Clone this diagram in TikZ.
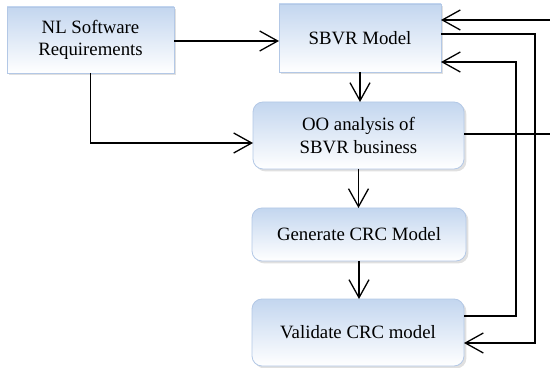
\documentclass[tikz,border=0pt]{standalone}
\usepackage{fontspec}
\setmainfont{Liberation Serif}
\usepackage{tikz}
\usetikzlibrary{arrows.meta, calc, shadows}

\definecolor{boxtop}{HTML}{C3D6EF}
\definecolor{boxline}{HTML}{B3C8E6}

\begin{document}
\begin{tikzpicture}[x=0.5pt, y=-0.5pt, font=\fontsize{9.4}{11.2}\selectfont]
    % Define styles
    \tikzstyle{box} = [rectangle, draw=boxline, line width=0.4pt, top color=boxtop, bottom color=white, text centered, align=center, inner sep=0pt, outer sep=0pt, drop shadow={shadow xshift=1.2pt, shadow yshift=-1.2pt, opacity=0.12, fill=black}]
    \tikzstyle{roundbox} = [box, rounded corners=5pt]
    \tikzstyle{arrow} = [line width=0.65pt, -{Straight Barb[length=9pt, width=10pt]}]

    \path[use as bounding box, clip] (0,0) rectangle (550,368);

    % Nodes
    \node (nl) [box, minimum width=83.5pt, minimum height=33pt] at (90.5,40) {NL Software\\Requirements};
    \node (sbvr) [box, minimum width=81pt, minimum height=34pt] at (360,38) {SBVR Model};
    \node (oo) [roundbox, minimum width=105.5pt, minimum height=33.5pt] at (358.5,135.5) {OO analysis of\\SBVR business};
    \node (crc) [roundbox, minimum width=107pt, minimum height=26.5pt] at (359,234.5) {Generate CRC Model};
    \node (valid) [roundbox, minimum width=106pt, minimum height=33.5pt] at (358,332.5) {Validate CRC model};
    \coordinate (rim) at (565,0);

    % Arrows
    \draw [arrow] (nl.east |- 0,41) -- (sbvr.west |- 0,41);
    \draw [arrow] (nl.south) |- ($(oo.west)+(0,7.5)$);
    \draw [arrow] (sbvr.south) -- (sbvr.south |- oo.north);
    \draw [arrow] (oo.south) -- (oo.south |- crc.north);
    \draw [arrow] (crc.south) -- (crc.south |- valid.north);
    \draw [arrow] ($(valid.east)+(0,-16.5)$) -| (516,62) -- ($(sbvr.east)+(0,24)$);
    \draw [arrow] ($(sbvr.east)+(0,-4)$) -| (535,343) -- ($(valid.east)+(0,10.5)$);
    \draw [arrow] ($(oo.east)+(0,-1.5)$) -| (rim) |- ($(sbvr.east)+(0,-18)$);
\end{tikzpicture}
\end{document}
